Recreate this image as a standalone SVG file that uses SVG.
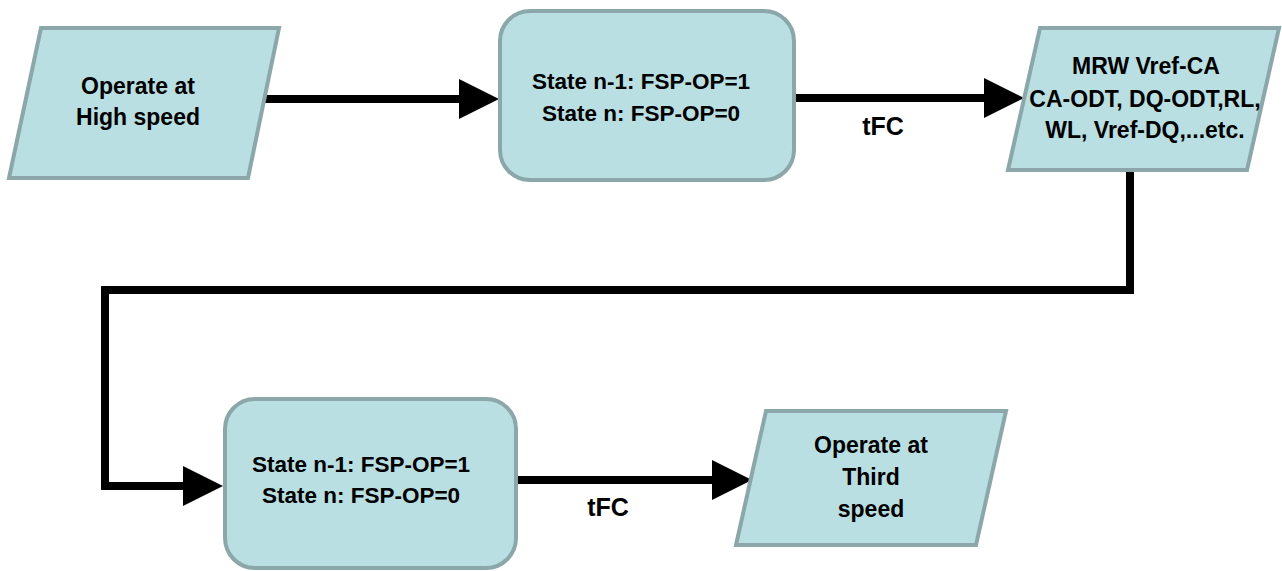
<svg xmlns="http://www.w3.org/2000/svg" width="1282" height="571" viewBox="0 0 1282 571">
  <defs>
    <style>
      .shape { fill: #b9dfe2; stroke: #8ca7a9; stroke-width: 4; stroke-linejoin: miter; }
      .lbl { font-family: "Liberation Sans", Arial, sans-serif; font-weight: bold; font-size: 22.5px; fill: #000; text-anchor: middle; }
      .big { font-size: 23px; }
      .edge { fill: none; stroke: #000; stroke-width: 8; stroke-linejoin: miter; stroke-linecap: butt; }
      .elbl { font-family: "Liberation Sans", Arial, sans-serif; font-weight: bold; font-size: 25px; fill: #000; text-anchor: middle; }
    </style>
    <marker id="arrow" markerUnits="userSpaceOnUse" markerWidth="40" markerHeight="40" refX="2" refY="20" orient="auto">
      <path d="M0,0 L40,20 L0,40 Z" fill="#000"/>
    </marker>
  </defs>
  <rect width="1282" height="571" fill="#ffffff"/>

  <g id="connectors">
    <path class="edge" d="M262,99 H461" marker-end="url(#arrow)"/>
    <path class="edge" d="M795,98 H986" marker-end="url(#arrow)"/>
    <path class="edge" d="M1130,171 V290 H105 V486 H185" marker-end="url(#arrow)"/>
    <path class="edge" d="M518,480 H714" marker-end="url(#arrow)"/>
    <text class="elbl" x="883" y="135">tFC</text>
    <text class="elbl" x="608" y="516">tFC</text>
  </g>

  <g id="node-high-speed">
    <polygon class="shape" points="41,28 279,28 248,178 9,178"/>
    <text class="lbl big" x="138" y="94">Operate at</text>
    <text class="lbl big" x="138" y="125">High speed</text>
  </g>

  <g id="node-state-1">
    <rect class="shape" x="500" y="11" width="294" height="169" rx="30" ry="30"/>
    <text class="lbl" x="641" y="89">State n-1: FSP-OP=1</text>
    <text class="lbl" x="641" y="121">State n: FSP-OP=0</text>
  </g>

  <g id="node-mrw">
    <polygon class="shape" points="1040,28 1279,28 1247,170 1008,170"/>
    <text class="lbl big" x="1146" y="74">MRW Vref-CA</text>
    <text class="lbl big" x="1145" y="107">CA-ODT, DQ-ODT,RL,</text>
    <text class="lbl big" x="1145" y="138">WL, Vref-DQ,...etc.</text>
  </g>

  <g id="node-state-2">
    <rect class="shape" x="225" y="399" width="291" height="169" rx="30" ry="30"/>
    <text class="lbl" x="361" y="472">State n-1: FSP-OP=1</text>
    <text class="lbl" x="361" y="503">State n: FSP-OP=0</text>
  </g>

  <g id="node-third-speed">
    <polygon class="shape" points="766,411 1006,411 976,545 736,545"/>
    <text class="lbl big" x="871" y="453">Operate at</text>
    <text class="lbl big" x="871" y="485">Third</text>
    <text class="lbl big" x="871" y="517">speed</text>
  </g>
</svg>
